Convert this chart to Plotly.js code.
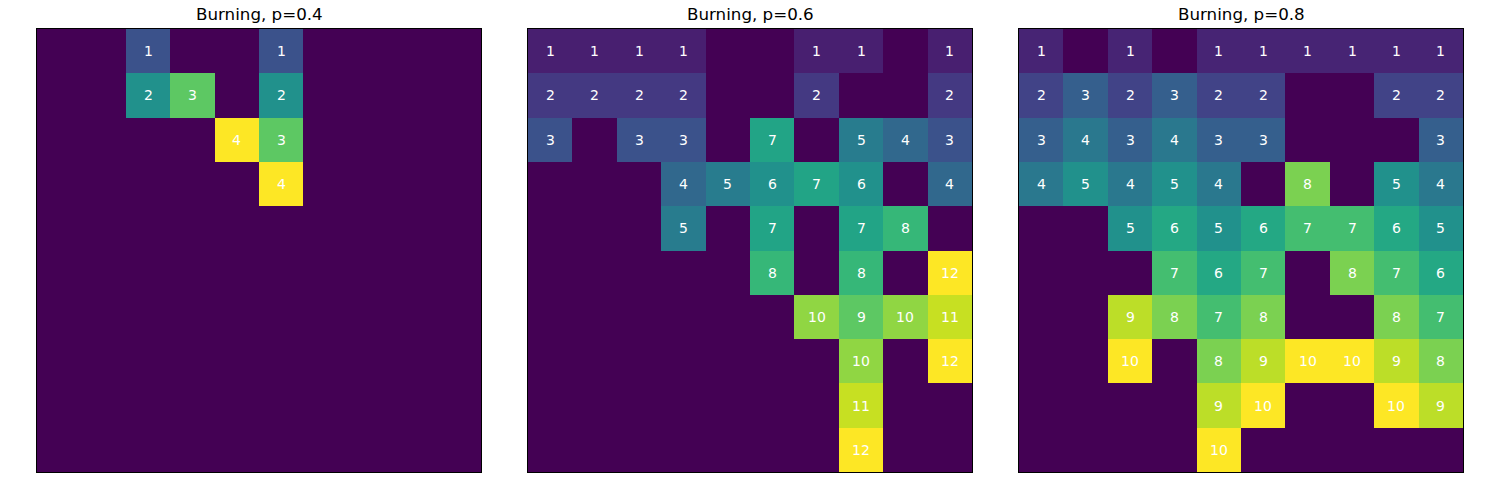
<!DOCTYPE html>
<html>
<head>
<meta charset="utf-8">
<script src="https://cdn.plot.ly/plotly-3.0.1.min.js"></script>
<style>html,body{margin:0;padding:0;background:#fff;}#chart{width:1500px;height:500px;}</style>
</head>
<body>
<div id="chart"></div>
<script>
const titles = ["Burning, p=0.4", "Burning, p=0.6", "Burning, p=0.8"];

const gridP04 = [
  [0,0,1,0,0,1,0,0,0,0],
  [0,0,2,3,0,2,0,0,0,0],
  [0,0,0,0,4,3,0,0,0,0],
  [0,0,0,0,0,4,0,0,0,0],
  [0,0,0,0,0,0,0,0,0,0],
  [0,0,0,0,0,0,0,0,0,0],
  [0,0,0,0,0,0,0,0,0,0],
  [0,0,0,0,0,0,0,0,0,0],
  [0,0,0,0,0,0,0,0,0,0],
  [0,0,0,0,0,0,0,0,0,0]
];

const gridP06 = [
  [1,1,1,1,0,0,1,1,0,1],
  [2,2,2,2,0,0,2,0,0,2],
  [3,0,3,3,0,7,0,5,4,3],
  [0,0,0,4,5,6,7,6,0,4],
  [0,0,0,5,0,7,0,7,8,0],
  [0,0,0,0,0,8,0,8,0,12],
  [0,0,0,0,0,0,10,9,10,11],
  [0,0,0,0,0,0,0,10,0,12],
  [0,0,0,0,0,0,0,11,0,0],
  [0,0,0,0,0,0,0,12,0,0]
];

const gridP08 = [
  [1,0,1,0,1,1,1,1,1,1],
  [2,3,2,3,2,2,0,0,2,2],
  [3,4,3,4,3,3,0,0,0,3],
  [4,5,4,5,4,0,8,0,5,4],
  [0,0,5,6,5,6,7,7,6,5],
  [0,0,0,7,6,7,0,8,7,6],
  [0,0,9,8,7,8,0,0,8,7],
  [0,0,10,0,8,9,10,10,9,8],
  [0,0,0,0,9,10,0,0,10,9],
  [0,0,0,0,10,0,0,0,0,0]
];

const grids = [gridP04, gridP06, gridP08];

const xDomains = [[37/1500, 481/1500], [528/1500, 972/1500], [1019/1500, 1463/1500]];
const yDomain = [1 - 472/500, 1 - 29/500];

const data = [];
const annotations = [];
const layout = {
  width: 1500, height: 500,
  margin: {l: 0, r: 0, t: 0, b: 0},
  paper_bgcolor: "#ffffff",
  plot_bgcolor: "#ffffff",
  showlegend: false,
  font: {family: "DejaVu Sans", color: "#000"}
};

grids.forEach((g, i) => {
  const sfx = i === 0 ? "" : String(i + 1);
  const xa = "x" + sfx, ya = "y" + sfx;
  let mx = 0;
  g.forEach(r => r.forEach(v => { if (v > mx) mx = v; }));
  data.push({
    type: "heatmap",
    z: g,
    x: [0,1,2,3,4,5,6,7,8,9],
    y: [0,1,2,3,4,5,6,7,8,9],
    xaxis: xa, yaxis: ya,
    colorscale: "Viridis",
    zmin: 0, zmax: mx,
    showscale: false,
    hoverinfo: "z"
  });
  g.forEach((row, r) => row.forEach((v, c) => {
    if (v !== 0) {
      annotations.push({
        x: c, y: r, xref: xa, yref: ya,
        text: String(v), showarrow: false,
        font: {family: "DejaVu Sans", size: 14, color: "#ffffff"}
      });
    }
  }));
  annotations.push({
    x: (xDomains[i][0] + xDomains[i][1]) / 2, y: yDomain[1],
    xref: "paper", yref: "paper", xanchor: "center", yanchor: "bottom",
    yshift: 3, text: titles[i], showarrow: false,
    font: {family: "DejaVu Sans", size: 16.7, color: "#000"}
  });
  layout["xaxis" + sfx] = {
    domain: xDomains[i], anchor: ya, range: [-0.5, 9.5],
    showticklabels: false, ticks: "", showgrid: false, zeroline: false,
    showline: true, mirror: true, linecolor: "#000", linewidth: 1
  };
  layout["yaxis" + sfx] = {
    domain: yDomain, anchor: xa, range: [9.5, -0.5],
    showticklabels: false, ticks: "", showgrid: false, zeroline: false,
    showline: true, mirror: true, linecolor: "#000", linewidth: 1
  };
});
layout.annotations = annotations;

Plotly.newPlot("chart", data, layout, {staticPlot: true, displayModeBar: false});
</script>
</body>
</html>
